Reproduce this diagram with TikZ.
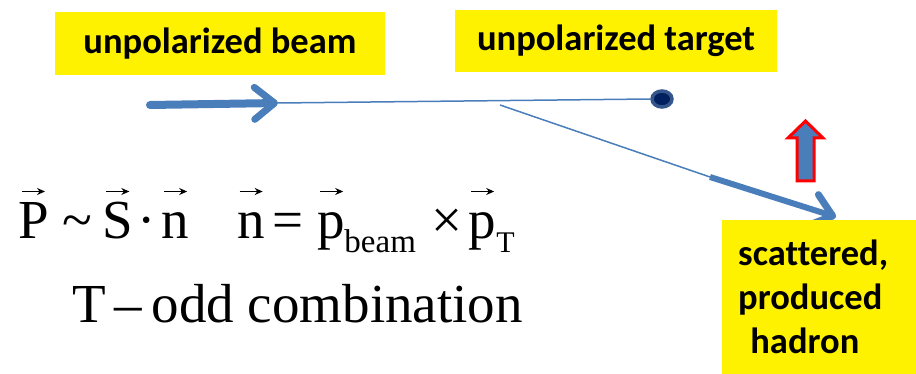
\documentclass[tikz,border=0pt]{standalone}
\usepackage{fontspec}
\usepackage{graphicx}
\setmainfont{Liberation Serif}
\newfontfamily\lblfont{Carlito}[Ligatures=NoCommon]
\usetikzlibrary{arrows.meta,positioning,shapes.geometric}
\definecolor{beamblue}{RGB}{74,126,187}
\definecolor{dotnavy}{RGB}{0,32,96}
\definecolor{dotrim}{RGB}{52,86,138}
% arrow set over a letter, all at one height
\newsavebox{\vecletter}
\newcommand{\vecarr}[1]{\sbox{\vecletter}{#1}\rlap{\hbox to \wd\vecletter{\hss\raisebox{0.8em}{\tikz\draw[black, line width=1.3pt, -{Stealth[length=8pt, width=7pt]}] (0pt,0pt) -- (23pt,0pt);}\hss}}\usebox{\vecletter}}
\newcommand{\subtxt}[2]{\raisebox{-0.24em}{\fontsize{#1}{#1}\selectfont #2}}
\begin{document}
\begin{tikzpicture}[x=1pt, y=-1pt,
            lbl/.style={fill=yellow, font=\lblfont\bfseries\fontsize{36.5}{44}\selectfont,
            inner sep=0pt, align=left},
            frm/.style={anchor=base west, inner sep=0pt,
            font=\fontsize{55}{60}\selectfont},
            thick beam/.style={beamblue, line width=8pt, line cap=round},
            thin beam/.style={beamblue, line width=1.5pt},
            chev/.style={-{Straight Barb[length=20pt, width=32pt, line width=7pt, round]}}
        ]
\useasboundingbox (0,0) rectangle (916,374);
% labels
            \node[lbl, minimum width=330pt, minimum height=63pt] (beamlbl) at (220,44) {unpolarized beam};
            \node[lbl, minimum width=322pt, minimum height=62pt] (tgtlbl) at (616,41) {unpolarized target};
% beam
            \coordinate (bstart) at (150,105);
            \coordinate (btip) at (278,103);
            \node[ellipse, fill=dotnavy, draw=dotrim, line width=3.5pt,
            minimum width=20pt, minimum height=16pt, inner sep=0pt] (tgt) at (662,99) {};
            \draw[thin beam] (btip) -- (tgt.west);
            \draw[thick beam, chev] (bstart) -- (btip);
% scattered hadron
            \coordinate (sstart) at (500,105);
            \coordinate (skink) at (710,177);
            \coordinate (stip) at (836,217);
            \draw[thin beam] (sstart) -- (skink);
            \draw[beamblue, line width=6pt, chev] (skink) -- (stip);
% spin arrow
            \draw[red, line width=3pt, fill=beamblue, line join=miter]
            (797,181) -- (814,181) -- (814,138) -- (823,138) -- (805.5,121)
            -- (788,138) -- (797,138) -- cycle;
            \node[lbl, anchor=north west, minimum width=194pt, minimum height=154pt,
            text width=172pt, inner xsep=16pt] (hadlbl) at (722,220)
            {scattered,\\produced\\\ hadron};
% formulas
            \node[frm] (eqn) at (18,239)
            {\vecarr{P}\hspace{14pt}{\char"7E}\hspace{10pt}\vecarr{S}\hspace{4.5pt}{\char"00B7}\hspace{6pt}\vecarr{n}\hspace{48pt}\vecarr{n}\hspace{8pt}=\hspace{14pt}\vecarr{p}\hspace{-1pt}\subtxt{33}{beam}\hspace{16pt}×\hspace{6pt}\vecarr{p}\subtxt{30}{T}};
            \node[frm] (todd) at (72,322) {T\,–\,odd combination};
\end{tikzpicture}
\end{document}
